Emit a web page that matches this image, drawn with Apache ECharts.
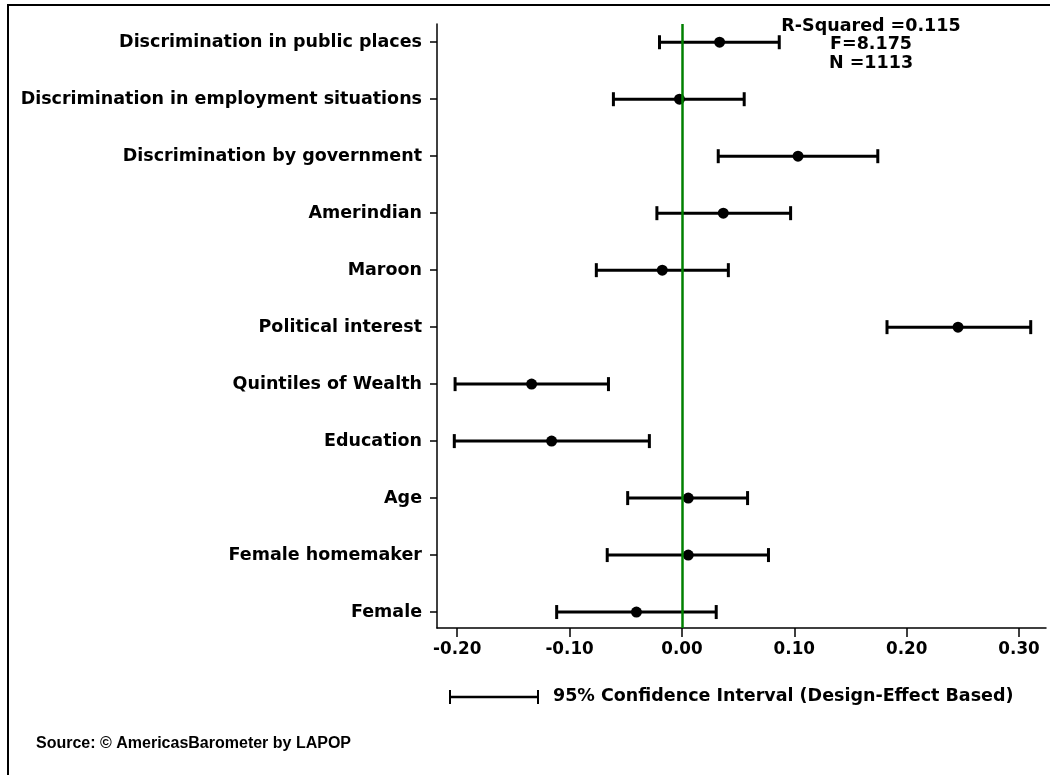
<!DOCTYPE html>
<html><head><meta charset="utf-8">
<script src="https://cdn.jsdelivr.net/npm/echarts@6/dist/echarts.min.js"></script>
<style>html,body{margin:0;padding:0;background:#fff}#c{width:1050px;height:775px}</style>
</head><body><div id="c"></div>
<script>
const categories = ['Female','Female homemaker','Age','Education','Quintiles of Wealth','Political interest','Maroon','Amerindian','Discrimination by government','Discrimination in employment situations','Discrimination in public places'];
const estimates = [-0.0405,0.0056,0.0056,-0.116,-0.1338,0.2457,-0.0175,0.0368,0.1033,-0.0022,0.0335];
const lower = [-0.1115,-0.0665,-0.0483,-0.2026,-0.2019,0.1825,-0.0762,-0.0223,0.0323,-0.061,-0.020];
const upper = [0.0305,0.077,0.0584,-0.029,-0.0654,0.3104,0.0413,0.0967,0.1743,0.0554,0.0866];
const xTicks = [-0.2,-0.1,0,0.1,0.2,0.3];
const statsText = ['R-Squared =0.115','F=8.175','N =1113'];
const legendText = '95% Confidence Interval (Design-Effect Based)';
const sourceText = 'Source: \u00a9 AmericasBarometer by LAPOP';

const FONT = '"DejaVu Sans", "Liberation Sans", Arial, sans-serif';
const FONT2 = '"Liberation Sans", Arial, sans-serif';
const idx = categories.map((_, i) => i);
const chart = echarts.init(document.getElementById('c'), null, {renderer: 'canvas'});

const ciData = idx.map(i => [lower[i], upper[i], i]);
const ptData = idx.map(i => [estimates[i], i]);

chart.setOption({
  animation: false,
  backgroundColor: '#fff',
  grid: {left: 437, right: 4, top: 24, bottom: 147, containLabel: false},
  xAxis: {
    type: 'value', min: -0.218, max: 0.324,
    axisLine: {show: true, onZero: false, lineStyle: {color: '#000', width: 1.5}},
    axisTick: {show: true, length: 9, customValues: xTicks, lineStyle: {color: '#000', width: 1.5}},
    axisLabel: {customValues: xTicks, formatter: v => v.toFixed(2), color: '#000', fontFamily: FONT, fontWeight: 'bold', fontSize: 16.8, margin: 13},
    splitLine: {show: false}
  },
  yAxis: {
    type: 'value', min: -0.28, max: 10.32,
    axisLine: {show: true, onZero: false, lineStyle: {color: '#000', width: 1.5}},
    axisTick: {show: true, length: 7, customValues: idx, lineStyle: {color: '#000', width: 1.5}},
    axisLabel: {customValues: idx, formatter: v => categories[Math.round(v)] || '', color: '#000', fontFamily: FONT, fontWeight: 'bold', fontSize: 17.5, margin: 15},
    splitLine: {show: false}
  },
  series: [
    {
      type: 'custom', data: ciData, encode: {x: [0, 1], y: 2}, z: 3,
      renderItem: function (params, api) {
        const a = api.coord([api.value(0), api.value(2)]);
        const b = api.coord([api.value(1), api.value(2)]);
        const h = 7;
        const st = {stroke: '#000', lineWidth: 3};
        return {type: 'group', children: [
          {type: 'line', shape: {x1: a[0], y1: a[1], x2: b[0], y2: b[1]}, style: st},
          {type: 'line', shape: {x1: a[0], y1: a[1] - h, x2: a[0], y2: a[1] + h}, style: st},
          {type: 'line', shape: {x1: b[0], y1: b[1] - h, x2: b[0], y2: b[1] + h}, style: st}
        ]};
      }
    },
    {
      type: 'scatter', data: ptData, symbol: 'circle', symbolSize: 11, z: 4,
      itemStyle: {color: '#000', opacity: 1},
      markLine: {
        silent: true, symbol: 'none', label: {show: false},
        lineStyle: {color: '#008000', width: 2.5, type: 'solid'},
        data: [{xAxis: 0}]
      }
    }
  ],
  graphic: [
    {type: 'rect', shape: {x: 8, y: 5, width: 1100, height: 800}, style: {fill: 'none', stroke: '#000', lineWidth: 2}, silent: true},
    {type: 'text', x: 871, y: 17, style: {text: statsText.join('\n'), fill: '#000', font: 'bold 17.5px ' + FONT, align: 'center', lineHeight: 18.5}},
    {type: 'group', x: 450, y: 689, children: [
      {type: 'line', shape: {x1: 0, y1: 8, x2: 88, y2: 8}, style: {stroke: '#000', lineWidth: 2.5}},
      {type: 'line', shape: {x1: 0, y1: 1, x2: 0, y2: 15}, style: {stroke: '#000', lineWidth: 2}},
      {type: 'line', shape: {x1: 88, y1: 1, x2: 88, y2: 15}, style: {stroke: '#000', lineWidth: 2}}
    ]},
    {type: 'text', x: 553, y: 687, style: {text: legendText, fill: '#000', font: 'bold 17.5px ' + FONT}},
    {type: 'text', x: 36, y: 736, style: {text: sourceText, fill: '#000', font: 'bold 16px ' + FONT2}}
  ]
});
</script></body></html>
